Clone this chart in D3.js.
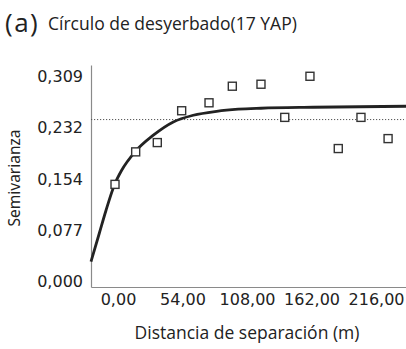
<!DOCTYPE html>
<html>
<head>
<meta charset="utf-8">
<script src="https://cdn.jsdelivr.net/npm/d3@7"></script>
<style>
  html, body { margin: 0; padding: 0; background: #fff; }
  svg { display: block; }
</style>
</head>
<body>
<svg id="chart" width="406" height="349"></svg>
<script>
// Experimental semivariogram: lag distance (m) vs semivariance
const lagDistance = [-2.5, 14.8, 32.9, 53.3, 76.2, 95.7, 119.7, 139.6, 160.7, 184.4, 203.4, 226.1];
const semivariance = [0.146, 0.195, 0.209, 0.257, 0.269, 0.294, 0.297, 0.247, 0.309, 0.200, 0.247, 0.215];

// Fitted model curve, sampled along distance
const modelDistance = [-22.6, -15.7, -10.0, -3.1, 3.1, 14.2, 29.6, 46.3, 63.0, 82.6, 100.7, 119.7, 163.3, 241.1];
const modelValue = [0.0294, 0.0719, 0.1070, 0.1447, 0.1673, 0.1949, 0.2201, 0.2401, 0.2502, 0.2562, 0.2593, 0.2608, 0.2623, 0.2638];

// Sample variance reference line
const sampleVariance = 0.2437;

const xTicks = [0, 54, 108, 162, 216];
const yTicks = [0, 0.077, 0.154, 0.232, 0.309];

const svg = d3.select("#chart");
const plotLeft = 91, plotRight = 406, plotTop = 65, plotBottom = 287;

const x = d3.scaleLinear().domain([-22.6, 241.1]).range([plotLeft, plotRight]);
const y = d3.scaleLinear().domain([-0.0088, 0.326]).range([plotBottom, plotTop]);

const locale = d3.formatLocale({ decimal: ",", thousands: ".", grouping: [3], currency: ["", ""] });
const fmtY = locale.format(".3f");
const fmtX = locale.format(".2f");

const axisColor = "#8a8a8a";
const textColor = "#222";

// Title
svg.append("text")
  .attr("x", 5).attr("y", 32)
  .attr("fill", textColor)
  .attr("letter-spacing", 1.5)
  .style("font-family", "'Open Sans', sans-serif")
  .style("font-size", "26px")
  .text("(a)");
svg.append("text")
  .attr("x", 48).attr("y", 30)
  .attr("fill", textColor)
  .style("font-family", "'Open Sans', sans-serif")
  .style("font-size", "17.5px")
  .text("Círculo de desyerbado(17 YAP)");

// Axes
const gy = svg.append("g")
  .attr("transform", `translate(${plotLeft},0)`)
  .call(d3.axisLeft(y).tickValues(yTicks).tickFormat(fmtY).tickSize(0).tickPadding(8));
const gx = svg.append("g")
  .attr("transform", `translate(0,${plotBottom})`)
  .call(d3.axisBottom(x).tickValues(xTicks).tickFormat(fmtX).tickSize(0).tickPadding(7));

[gx, gy].forEach(g => {
  g.select(".domain").attr("stroke", axisColor).attr("stroke-width", 1.2);
  g.selectAll("text")
    .attr("fill", textColor)
    .style("font-family", "'DejaVu Sans', sans-serif")
    .style("font-size", "16px");
});

// Axis titles
svg.append("text")
  .attr("transform", `translate(20,178) rotate(-90)`)
  .attr("text-anchor", "middle")
  .attr("fill", textColor)
  .style("font-family", "'Noto Sans', sans-serif")
  .style("font-size", "15.5px")
  .text("Semivarianza");

svg.append("text")
  .attr("x", 247).attr("y", 339)
  .attr("text-anchor", "middle")
  .attr("fill", textColor)
  .style("font-family", "'Open Sans', sans-serif")
  .style("font-size", "17.5px")
  .text("Distancia de separación (m)");

// Sample variance (dotted)
svg.append("line")
  .attr("x1", plotLeft).attr("x2", 404)
  .attr("y1", y(sampleVariance)).attr("y2", y(sampleVariance))
  .attr("stroke", "#555")
  .attr("stroke-width", 1)
  .attr("stroke-dasharray", "1.2,1.8");

// Model curve
const curveData = modelDistance.map((d, i) => [d, modelValue[i]]);
svg.append("path")
  .datum(curveData)
  .attr("fill", "none")
  .attr("stroke", "#222")
  .attr("stroke-width", 2.8)
  .attr("d", d3.line().x(d => x(d[0])).y(d => y(d[1])).curve(d3.curveMonotoneX));

// Experimental points
const pts = lagDistance.map((d, i) => [d, semivariance[i]]);
const s = 8;
svg.append("g").selectAll("rect")
  .data(pts)
  .join("rect")
  .attr("x", d => x(d[0]) - s / 2)
  .attr("y", d => y(d[1]) - s / 2)
  .attr("width", s).attr("height", s)
  .attr("fill", "#fff")
  .attr("stroke", "#333")
  .attr("stroke-width", 1.4);
</script>
</body>
</html>
